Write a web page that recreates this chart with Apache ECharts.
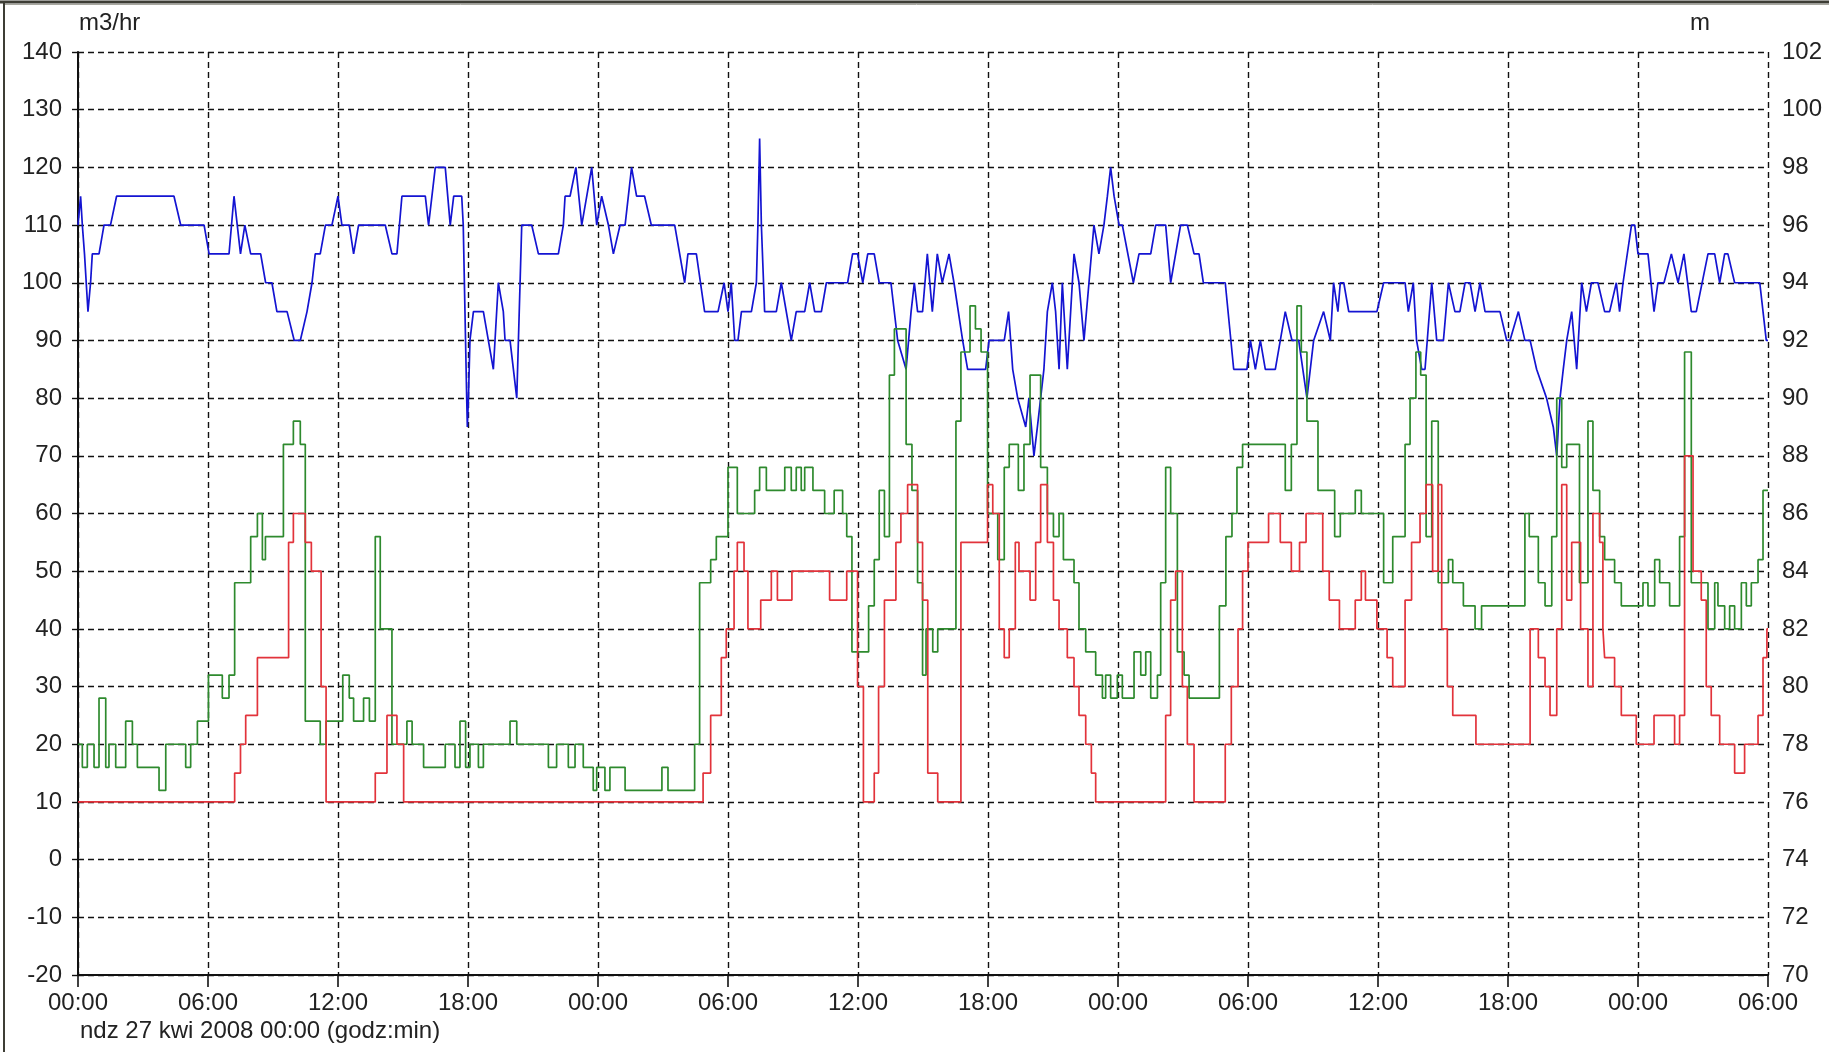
<!DOCTYPE html>
<html>
<head>
<meta charset="utf-8">
<script src="https://cdn.jsdelivr.net/npm/echarts@6/dist/echarts.min.js"></script>
<style>
html,body{margin:0;padding:0;background:#fff;}
#chart{width:1829px;height:1052px;}
</style>
</head>
<body>
<div id="chart"></div>
<script>
// x values are hours since ndz 27 kwi 2008 00:00
const xTickLabels = ['00:00','06:00','12:00','18:00','00:00','06:00','12:00','18:00','00:00','06:00','12:00','18:00','00:00','06:00'];
const leftAxisName = 'm3/hr';
const rightAxisName = 'm';
const xAxisTitle = 'ndz 27 kwi 2008 00:00 (godz:min)';

// blue line, right axis (m)
const blueLevel = [[0,96],[0.12,97],[0.2,96],[0.3,95],[0.46,93],[0.58,94],[0.66,95],[0.97,95],[1.2,96],[1.5,96],[1.78,97],[4.43,97],[4.74,96],[5.82,96],[6.05,95],[6.97,95],[7.2,97],[7.35,96],[7.5,95],[7.7,96],[7.97,95],[8.43,95],[8.66,94],[8.95,94],[9.18,93],[9.65,93],[9.98,92],[10.26,92],[10.57,93],[10.8,94],[10.95,95],[11.18,95],[11.42,96],[11.72,96],[12.0,97],[12.18,96],[12.52,96],[12.72,95],[12.95,96],[14.18,96],[14.49,95],[14.72,95],[14.95,97],[16.03,97],[16.18,96],[16.49,98],[16.95,98],[17.18,96],[17.34,97],[17.71,97],[17.78,96],[17.86,93],[17.94,90],[17.97,89],[18.02,90],[18.09,92],[18.25,93],[18.71,93],[19.17,91],[19.4,94],[19.63,93],[19.71,92],[19.94,92],[20.25,90],[20.48,96],[20.94,96],[21.25,95],[22.17,95],[22.4,96],[22.48,97],[22.71,97],[22.98,98],[23.25,96],[23.71,98],[23.94,96],[24.17,97],[24.48,96],[24.71,95],[25.02,96],[25.25,96],[25.55,98],[25.78,97],[26.15,97],[26.46,96],[27.54,96],[28.0,94],[28.15,95],[28.54,95],[28.92,93],[29.54,93],[29.82,94],[30.0,93],[30.15,94],[30.31,92],[30.46,92],[30.62,93],[31.08,93],[31.31,94],[31.38,96],[31.46,99],[31.54,96],[31.69,93],[32.23,93],[32.46,94],[32.92,92],[33.15,93],[33.54,93],[33.77,94],[34.0,93],[34.31,93],[34.54,94],[35.52,94],[35.75,95],[35.98,95],[36.22,94],[36.45,95],[36.75,95],[36.98,94],[37.52,94],[37.83,92],[38.22,91],[38.45,93],[38.6,94],[38.75,93],[38.98,93],[39.2,95],[39.43,93],[39.66,95],[39.89,94],[40.2,95],[40.43,94],[40.83,92],[41.06,91],[41.89,91],[42.05,92],[42.75,92],[42.95,93],[43.14,91],[43.37,90],[43.74,89],[43.89,90],[44.12,88],[44.28,89],[44.58,91],[44.74,93],[44.97,94],[45.12,93],[45.28,91],[45.43,94],[45.66,91],[45.97,95],[46.2,94],[46.43,92],[46.66,94],[46.89,96],[47.12,95],[47.35,96],[47.51,97],[47.66,98],[47.82,97],[48.05,96],[48.2,96],[48.71,94],[48.97,95],[49.51,95],[49.74,96],[50.2,96],[50.43,94],[50.89,96],[51.2,96],[51.51,95],[51.74,95],[51.94,94],[52.95,94],[53.34,91],[53.95,91],[54.11,92],[54.34,91],[54.57,92],[54.8,91],[55.26,91],[55.72,93],[56.03,92],[56.34,92],[56.72,90],[57.03,92],[57.49,93],[57.8,92],[57.95,94],[58.15,93],[58.26,94],[58.42,94],[58.65,93],[59.95,93],[60.26,94],[61.25,94],[61.4,93],[61.63,94],[61.78,92],[62.02,91],[62.17,91],[62.48,94],[62.71,92],[63.02,92],[63.25,94],[63.55,93],[63.78,93],[64.02,94],[64.25,94],[64.48,93],[64.71,94],[64.94,93],[65.63,93],[65.94,92],[66.09,92],[66.48,93],[66.78,92],[67.02,92],[67.32,91],[67.78,90],[68.09,89],[68.25,88],[68.4,90],[68.55,91],[68.71,92],[68.94,93],[69.17,91],[69.4,94],[69.62,93],[69.85,94],[70.15,94],[70.46,93],[70.69,93],[71.0,94],[71.15,93],[71.31,94],[71.7,96],[71.85,96],[72.0,95],[72.46,95],[72.74,93],[72.92,94],[73.2,94],[73.54,95],[73.85,94],[74.12,95],[74.46,93],[74.69,93],[75.23,95],[75.54,95],[75.77,94],[76.0,95],[76.15,95],[76.46,94],[77.62,94],[77.92,92],[78,92]];

// green step line, left axis (m3/hr)
const greenFlow = [[0,20],[0.2,16],[0.43,20],[0.74,16],[0.97,28],[1.28,16],[1.43,20],[1.74,16],[2.2,24],[2.51,20],[2.74,16],[3.74,12],[4.05,20],[4.97,16],[5.2,20],[5.51,24],[6.02,32],[6.66,28],[6.97,32],[7.23,48],[7.97,56],[8.28,60],[8.51,52],[8.65,56],[9.48,72],[9.94,76],[10.26,72],[10.49,24],[11.18,20],[11.45,24],[12.22,32],[12.52,28],[12.72,24],[13.18,28],[13.45,24],[13.72,56],[13.95,40],[14.49,20],[15.18,24],[15.42,20],[15.95,16],[16.95,20],[17.4,16],[17.63,24],[17.89,16],[18.09,20],[18.48,16],[18.71,20],[19.94,24],[20.25,20],[21.71,16],[22.09,20],[22.63,16],[22.94,20],[23.32,16],[23.78,12],[23.94,16],[24.32,12],[24.55,16],[25.25,12],[26.95,16],[27.23,12],[28.46,20],[28.69,48],[29.2,52],[29.46,56],[30.0,68],[30.43,60],[31.23,64],[31.46,68],[31.77,64],[32.62,68],[32.92,64],[33.15,68],[33.38,64],[33.54,68],[33.92,64],[34.46,60],[34.9,64],[35.29,60],[35.48,56],[35.72,36],[36.49,44],[36.75,52],[36.98,64],[37.22,56],[37.45,84],[37.68,92],[38.22,72],[38.49,64],[38.75,48],[38.98,32],[39.14,40],[39.45,36],[39.68,40],[40.52,76],[40.75,88],[41.17,96],[41.42,92],[41.68,88],[41.98,60],[42.45,52],[42.75,68],[42.98,72],[43.4,64],[43.66,72],[43.94,84],[44.43,68],[44.74,60],[45.02,56],[45.28,60],[45.48,52],[45.97,48],[46.2,40],[46.51,36],[46.97,32],[47.28,28],[47.43,32],[47.66,28],[47.97,32],[48.2,28],[48.74,36],[49.05,32],[49.28,36],[49.51,28],[49.82,32],[49.97,48],[50.2,68],[50.43,60],[50.74,36],[51.05,32],[51.28,28],[52.68,44],[52.98,56],[53.26,60],[53.49,68],[53.75,72],[55.72,64],[56.0,72],[56.26,96],[56.46,88],[56.72,76],[57.23,64],[58.0,56],[58.26,60],[58.95,64],[59.23,60],[60.26,48],[60.68,56],[61.25,72],[61.48,80],[61.75,88],[61.97,84],[62.22,56],[62.48,76],[62.78,48],[63.25,52],[63.45,48],[63.94,44],[64.48,40],[64.78,44],[66.78,60],[66.98,56],[67.4,48],[67.71,44],[68.02,56],[68.25,80],[68.48,68],[68.71,72],[69.3,48],[69.69,76],[69.92,64],[70.23,56],[70.46,52],[70.92,48],[71.23,44],[72.23,48],[72.46,44],[72.77,52],[73.0,48],[73.46,44],[73.92,56],[74.15,88],[74.46,48],[75.23,40],[75.54,48],[75.69,44],[76.0,40],[76.23,44],[76.46,40],[76.77,48],[77.0,44],[77.23,48],[77.54,52],[77.77,64],[78,64]];

// red step line, left axis (m3/hr)
const redFlow = [[0,10],[7.23,15],[7.5,20],[7.74,25],[8.28,35],[9.72,55],[9.94,60],[10.49,55],[10.77,50],[11.22,30],[11.45,10],[13.72,15],[14.26,25],[14.72,20],[15.03,10],[28.85,15],[29.2,25],[29.69,35],[29.92,40],[30.28,50],[30.43,55],[30.74,50],[30.92,40],[31.51,45],[32.0,50],[32.28,45],[32.95,50],[34.69,45],[35.48,50],[35.98,30],[36.25,10],[36.75,15],[36.95,30],[37.22,45],[37.75,55],[37.98,60],[38.29,65],[38.75,55],[38.98,45],[39.22,15],[39.68,10],[40.75,55],[41.98,65],[42.22,60],[42.52,40],[42.75,35],[42.98,40],[43.26,55],[43.43,50],[43.94,45],[44.2,55],[44.43,65],[44.74,55],[45.02,45],[45.28,40],[45.66,35],[45.97,30],[46.2,25],[46.51,20],[46.77,15],[46.97,10],[50.2,25],[50.43,45],[50.66,50],[50.97,30],[51.2,20],[51.51,10],[52.95,20],[53.23,30],[53.54,40],[53.75,50],[54.0,55],[54.95,60],[55.49,55],[56.0,50],[56.38,55],[56.68,60],[57.45,50],[57.75,45],[58.22,40],[58.95,45],[59.23,50],[59.42,45],[59.95,40],[60.42,35],[60.68,30],[61.25,45],[61.55,55],[61.94,60],[62.22,65],[62.52,50],[62.78,65],[62.94,40],[63.2,30],[63.45,25],[64.52,20],[67.02,40],[67.4,35],[67.71,30],[67.94,25],[68.25,40],[68.48,65],[68.71,45],[68.94,55],[69.35,40],[69.69,30],[69.92,60],[70.23,55],[70.38,40],[70.46,35],[70.92,30],[71.23,25],[71.92,20],[72.74,25],[73.69,20],[73.92,25],[74.15,70],[74.54,50],[74.92,45],[75.15,30],[75.38,25],[75.77,20],[76.46,15],[76.92,20],[77.54,25],[77.77,35],[77.95,40],[78,40]];

const FONT = '"Liberation Sans", Arial, sans-serif';
const chart = echarts.init(document.getElementById('chart'), null, {renderer:'canvas'});
const gridDash = {color:'#111', width:1.4, type:[6,4]};

chart.setOption({
  animation:false,
  backgroundColor:'#ffffff',
  grid:{left:78, right:61, top:52, bottom:77, containLabel:false},
  xAxis:{
    type:'value', min:0, max:78, interval:6,
    axisLine:{show:true, onZero:false, lineStyle:{color:'#111', width:2}},
    axisTick:{show:true, inside:false, length:12, lineStyle:{color:'#111', width:1.6}},
    axisLabel:{show:true, margin:16, color:'#222', fontFamily:FONT, fontSize:24,
      showMinLabel:true, showMaxLabel:true,
      formatter:function(v){ return xTickLabels[Math.round(v/6)]; }},
    splitLine:{show:true, lineStyle:gridDash}
  },
  yAxis:[{
    type:'value', min:-20, max:140, interval:10, position:'left',
    axisLine:{show:true, onZero:false, lineStyle:{color:'#111', width:2}},
    axisTick:{show:true, inside:false, length:6, lineStyle:{color:'#111', width:1.4}},
    axisLabel:{margin:16, color:'#222', fontFamily:FONT, fontSize:24},
    splitLine:{show:true, lineStyle:gridDash}
  },{
    type:'value', min:70, max:102, interval:2, position:'right',
    axisLine:{show:false}, axisTick:{show:false},
    axisLabel:{margin:14, color:'#222', fontFamily:FONT, fontSize:24},
    splitLine:{show:false}
  }],
  graphic:[
    {type:'line', shape:{x1:0,y1:2,x2:1829,y2:2}, style:{stroke:'#3d3d35', lineWidth:3}, silent:true},
    {type:'line', shape:{x1:4,y1:4.5,x2:1829,y2:4.5}, style:{stroke:'#a8a8a0', lineWidth:1}, silent:true},
    {type:'line', shape:{x1:4,y1:2,x2:4,y2:1052}, style:{stroke:'#3d3d35', lineWidth:2}, silent:true},
    {type:'text', left:79, top:11, style:{text:leftAxisName, font:'24px '+FONT, fill:'#222'}},
    {type:'text', left:1690, top:11, style:{text:rightAxisName, font:'24px '+FONT, fill:'#222'}},
    {type:'text', left:80, top:1019, style:{text:xAxisTitle, font:'24px '+FONT, fill:'#222'}}
  ],
  series:[
    {name:'blue', type:'line', yAxisIndex:1, data:blueLevel, showSymbol:false,
      lineStyle:{color:'#1414d2', width:1.7}, itemStyle:{color:'#1414d2'}, z:3},
    {name:'green', type:'line', yAxisIndex:0, step:'end', data:greenFlow, showSymbol:false,
      lineStyle:{color:'#2e8a2e', width:1.7}, itemStyle:{color:'#2e8a2e'}, z:3},
    {name:'red', type:'line', yAxisIndex:0, step:'end', data:redFlow, showSymbol:false,
      lineStyle:{color:'#e2333b', width:1.7}, itemStyle:{color:'#e2333b'}, z:4}
  ]
});
</script>
</body>
</html>
